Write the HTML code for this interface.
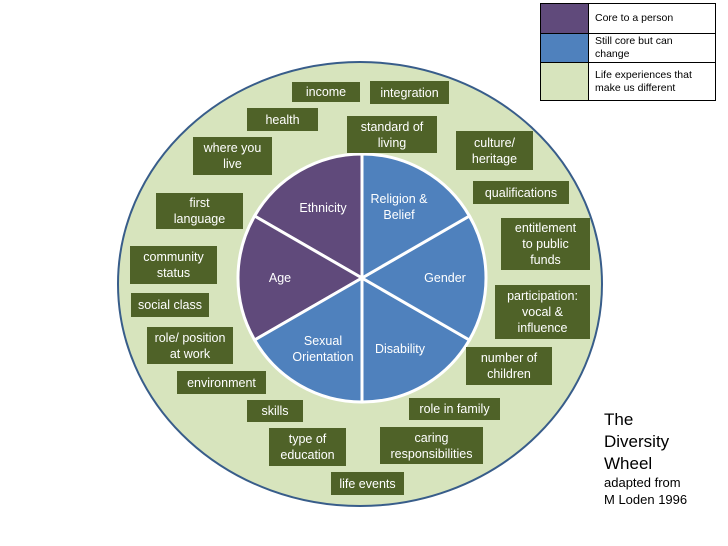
<!DOCTYPE html>
<html><head><style>
body{margin:0;background:#fff;width:728px;height:546px;overflow:hidden;font-family:"Liberation Sans",sans-serif}
svg{position:absolute;left:0;top:0}
.b{position:absolute;background:#4F6228;color:#fff;font-size:12.5px;line-height:16px;text-align:center;display:flex;align-items:center;justify-content:center}
.w{position:absolute;color:#fff;font-size:12.5px;line-height:16px;text-align:center}
table{position:absolute;left:540px;top:3px;border-collapse:collapse;font-size:10.5px}
td{border:1px solid #000;padding:0 6px;line-height:13px}
</style></head><body>
<svg width="728" height="546">
<ellipse cx="360" cy="284" rx="242" ry="222" fill="#D7E4BD" stroke="#385D8A" stroke-width="2"/>
<g stroke="#fff" stroke-width="3">
<path d="M362,278 L362,154 A124,124 0 0 0 254.6,216 Z" fill="#604A7B"/>
<path d="M362,278 L254.6,216 A124,124 0 0 0 254.6,340 Z" fill="#604A7B"/>
<path d="M362,278 L254.6,340 A124,124 0 0 0 362,402 Z" fill="#4F81BD"/>
<path d="M362,278 L362,402 A124,124 0 0 0 469.4,340 Z" fill="#4F81BD"/>
<path d="M362,278 L469.4,340 A124,124 0 0 0 469.4,216 Z" fill="#4F81BD"/>
<path d="M362,278 L469.4,216 A124,124 0 0 0 362,154 Z" fill="#4F81BD"/>
</g>
</svg>
<div class="w" style="left:290px;top:200px;width:66px">Ethnicity</div>
<div class="w" style="left:364px;top:191px;width:70px">Religion &amp;<br>Belief</div>
<div class="w" style="left:415px;top:270px;width:60px">Gender</div>
<div class="w" style="left:262px;top:270px;width:36px">Age</div>
<div class="w" style="left:283px;top:333px;width:80px">Sexual<br>Orientation</div>
<div class="w" style="left:366px;top:341px;width:68px">Disability</div>

<div class="b" style="left:292px;top:82px;width:68px;height:20px">income</div>
<div class="b" style="left:370px;top:81px;width:79px;height:23px">integration</div>
<div class="b" style="left:247px;top:108px;width:71px;height:23px">health</div>
<div class="b" style="left:347px;top:116px;width:90px;height:37px">standard of<br>living</div>
<div class="b" style="left:193px;top:137px;width:79px;height:38px">where you<br>live</div>
<div class="b" style="left:456px;top:131px;width:77px;height:39px">culture/<br>heritage</div>
<div class="b" style="left:473px;top:181px;width:96px;height:23px">qualifications</div>
<div class="b" style="left:156px;top:193px;width:87px;height:36px">first<br>language</div>
<div class="b" style="left:501px;top:218px;width:89px;height:52px">entitlement<br>to public<br>funds</div>
<div class="b" style="left:130px;top:246px;width:87px;height:38px">community<br>status</div>
<div class="b" style="left:131px;top:293px;width:78px;height:24px">social class</div>
<div class="b" style="left:495px;top:285px;width:95px;height:54px">participation:<br>vocal &amp;<br>influence</div>
<div class="b" style="left:147px;top:327px;width:86px;height:37px">role/ position<br>at work</div>
<div class="b" style="left:466px;top:347px;width:86px;height:38px">number of<br>children</div>
<div class="b" style="left:177px;top:371px;width:89px;height:23px">environment</div>
<div class="b" style="left:247px;top:400px;width:56px;height:22px">skills</div>
<div class="b" style="left:409px;top:398px;width:91px;height:22px">role in family</div>
<div class="b" style="left:269px;top:428px;width:77px;height:38px">type of<br>education</div>
<div class="b" style="left:380px;top:427px;width:103px;height:37px">caring<br>responsibilities</div>
<div class="b" style="left:331px;top:472px;width:73px;height:23px">life events</div>

<table>
<tr style="height:30px"><td style="width:35px;background:#604A7B"></td><td style="width:114px">Core to a person</td></tr>
<tr style="height:29px"><td style="background:#4F81BD"></td><td>Still core but can change</td></tr>
<tr style="height:38px"><td style="background:#D7E4BD"></td><td>Life experiences that<br>make us different</td></tr>
</table>

<div style="position:absolute;left:604px;top:409px;font-size:17px;line-height:22px;color:#000">The<br>Diversity<br>Wheel</div>
<div style="position:absolute;left:604px;top:474px;font-size:13px;line-height:17px;color:#000">adapted from<br>M Loden 1996</div>
</body></html>
